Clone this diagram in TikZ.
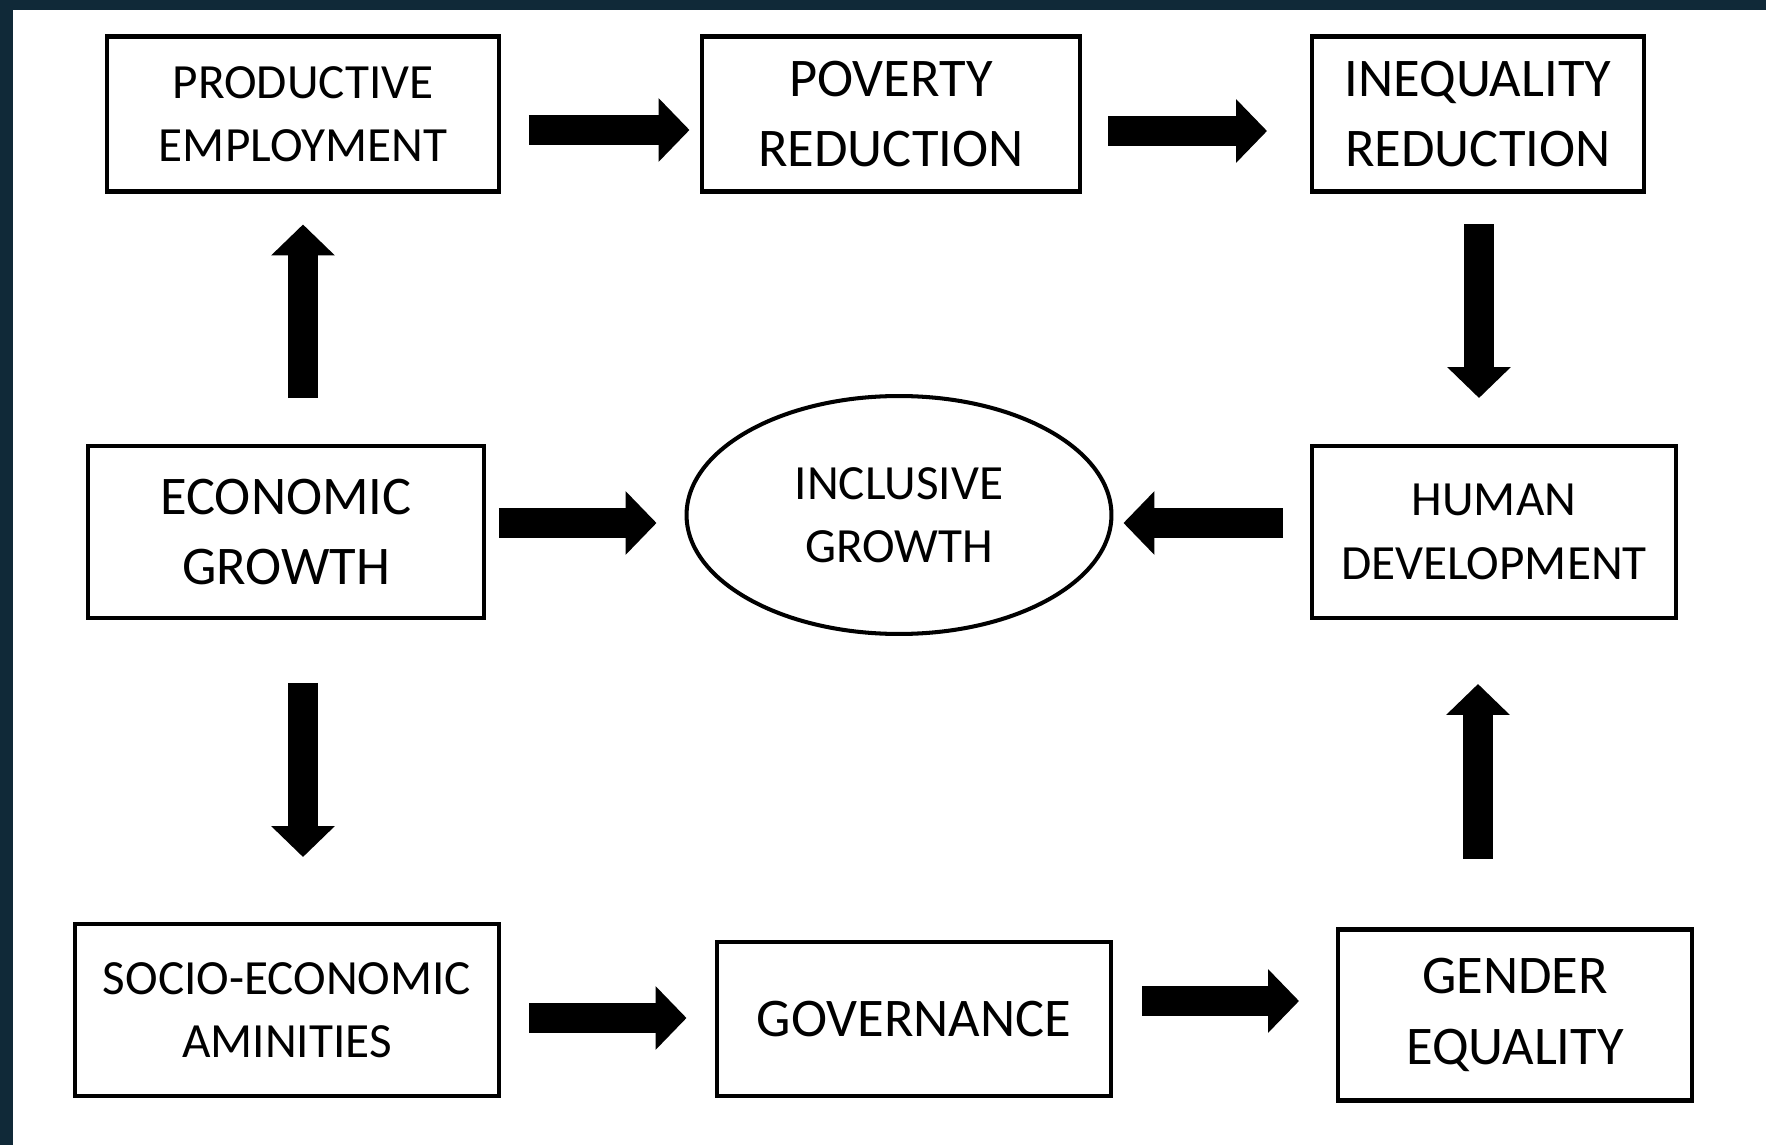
\documentclass[tikz,border=0pt]{standalone}
\usepackage{fontspec}
\setmainfont{Carlito}
\usepackage{xcolor}
\usepackage{tikz}
\usetikzlibrary{arrows.meta, positioning}
\usetikzlibrary{shapes.geometric}

\definecolor{frame}{RGB}{16,41,56}

\begin{document}
\begin{tikzpicture} [x = 0.02cm, y = -0.02cm,
          box/.style = {draw, line width = 2.3pt, align = center,
              inner sep = 0pt, minimum height = 3.1cm
          },
          big/.style = {font = \fontsize{31}{40}\selectfont},
          small/.style = {font = \fontsize{28}{36}\selectfont},
          blockarrow/.style = {line width = 0.6cm,
              -{Triangle[length = 0.62cm, width = 1.24cm]}
          }
          ]

          % Frame
          \fill [white] (0,0) rectangle (1766,1145);
          \fill [frame] (0,0) rectangle (1766,10);
          \fill [frame] (0,0) rectangle (13,1145);
          \useasboundingbox (0,0) rectangle (1766,1145);

          % Top Row
          \node (pe) [box, small, minimum width = 7.84cm] at (303,114) {PRODUCTIVE\\EMPLOYMENT};
          \node (pr) [box, big, minimum width = 7.58cm] at (891,114) {POVERTY\\REDUCTION};
          \node (ir) [box, big, minimum width = 6.64cm] at (1478,114) {INEQUALITY\\REDUCTION};

          % Middle Row
          \node (eg) [box, big, minimum width = 7.92cm, minimum height = 3.44cm] at (286,532) {ECONOMIC\\GROWTH};
          \node (ig) [ellipse, draw, line width = 2.3pt, small, align = center, inner sep = 0pt,
              minimum width = 8.5cm, minimum height = 4.76cm] at (899,515) {INCLUSIVE\\GROWTH};
          \node (hd) [box, small, minimum width = 7.28cm, minimum height = 3.44cm] at (1494,532) {HUMAN\\DEVELOPMENT};

          % Bottom Row
          \node (sea) [box, small, minimum width = 8.5cm, minimum height = 3.44cm] at (287,1010) {SOCIO-ECONOMIC\\AMINITIES};
          \node (gov) [box, big, minimum width = 7.9cm, minimum height = 3.08cm] at (914,1019) {GOVERNANCE};
          \node (ge) [box, big, minimum width = 7.08cm, minimum height = 3.42cm] at (1515,1015) {GENDER\\EQUALITY};

          % Links
          \path [blockarrow]
            (pe.east |- 0,130) edge [shorten < = 0.56cm, shorten > = 0.2cm]  (pr.west |- 0,130)
            (pr.east |- 0,131) edge [shorten < = 0.52cm, shorten > = 0.86cm] (ir.west |- 0,131)
            (ir.south -| 1479,0) edge [shorten < = 0.62cm, shorten > = 0.92cm] (hd.north -| 1479,0)

            (eg.north -| 303,0) edge [shorten < = 0.92cm, shorten > = 0.62cm] (pe.south -| 303,0)
            (eg.east |- 0,523) edge [shorten < = 0.26cm, shorten > = 0.56cm]  (ig.west |- 0,523)
            (hd.west |- 0,523) edge [shorten < = 0.54cm, shorten > = 0.2cm]   (ig.east |- 0,523)
            (eg.south -| 303,0) edge [shorten < = 1.26cm, shorten > = 1.3cm]  (sea.north -| 303,0)

            (sea.east |- 0,1018) edge [shorten < = 0.56cm, shorten > = 0.56cm] (gov.west |- 0,1018)
            (gov.east |- 0,1001) edge [shorten < = 0.58cm, shorten > = 0.74cm] (ge.west |- 0,1001)
            (ge.north -| 1478,0) edge [shorten < = 1.38cm, shorten > = 1.28cm] (hd.south -| 1478,0);

        \end{tikzpicture}
\end{document}
